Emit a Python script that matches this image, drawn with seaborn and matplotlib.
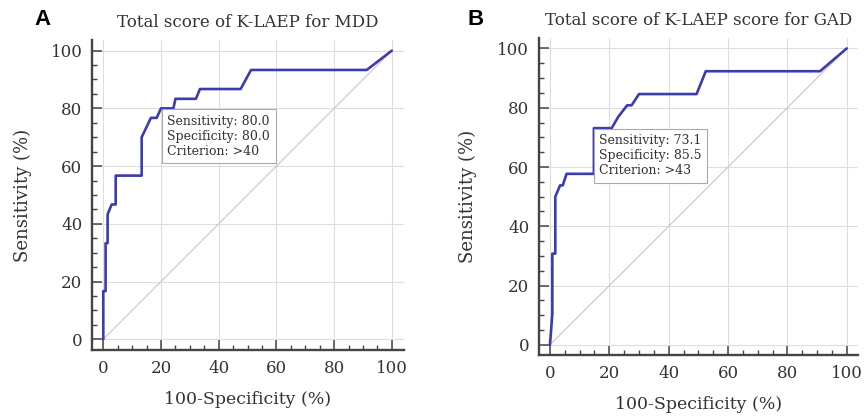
import matplotlib
matplotlib.use("Agg")
import matplotlib.pyplot as plt
from matplotlib.ticker import MultipleLocator
import seaborn as sns
import pandas as pd

# ---- data ----
fpr_mdd = [0, 0, 0.8, 0.8, 1.5, 1.5, 2.9, 4.3, 4.3, 13.3, 13.3, 16.5, 18.5, 20.0,
           24.3, 25.0, 32.1, 33.5, 47.6, 51.2, 91.3, 100]
tpr_mdd = [0, 16.7, 16.7, 33.3, 33.3, 43.3, 46.7, 46.7, 56.7, 56.7, 70.0, 76.7, 76.7, 80.0,
           80.0, 83.3, 83.3, 86.7, 86.7, 93.3, 93.3, 100]

fpr_gad = [0, 0.8, 0.8, 1.8, 1.8, 3.4, 4.3, 5.6, 14.8, 14.8, 20.8, 23.0, 26.0, 27.5,
           30.0, 49.4, 52.5, 91.0, 100]
tpr_gad = [0, 10.4, 30.8, 30.8, 50.0, 53.8, 53.8, 57.7, 57.7, 73.1, 73.1, 76.9, 80.8, 80.8,
           84.6, 84.6, 92.3, 92.3, 100]

titles = ["Total score of K-LAEP for MDD", "Total score of K-LAEP score for GAD"]
letters = ["A", "B"]
cut_points = [(20.0, 80.0), (14.5, 73.1)]
box_texts = ["Sensitivity: 80.0\nSpecificity: 80.0\nCriterion: >40",
             "Sensitivity: 73.1\nSpecificity: 85.5\nCriterion: >43"]
ticks = [0, 20, 40, 60, 80, 100]
diag = [0, 100]

sns.set_theme(style="white")
plt.rcParams["font.family"] = ["DejaVu Serif"]

fig = plt.figure(figsize=(8.65, 4.16), dpi=100)
axes_pos = [[0.1064, 0.1587, 0.3606, 0.7453],
            [0.6231, 0.1466, 0.3688, 0.7620]]
lims = [((-3.9, 104.2), (-3.7, 103.7)), ((-3.7, 103.8), (-3.4, 103.5))]
letter_pos = [(0.040, 0.952), (0.540, 0.952)]
xlabelpads = [10, 10]
ylabelpads = [13, 15]

curves = [(fpr_mdd, tpr_mdd), (fpr_gad, tpr_gad)]
txtc = "#333333"
for i in range(2):
    ax = fig.add_axes(axes_pos[i])
    fpr, tpr = curves[i]
    df = pd.DataFrame({"fpr": fpr, "tpr": tpr})
    sns.lineplot(x=diag, y=diag, ax=ax, color="#d2b8b8", linewidth=0.7)
    sns.lineplot(data=df, x="fpr", y="tpr", ax=ax, sort=False, estimator=None,
                 color="#3c3cae", linewidth=1.9)
    ax.set_xlim(*lims[i][0])
    ax.set_ylim(*lims[i][1])
    ax.set_xticks(ticks)
    ax.set_yticks(ticks)
    ax.xaxis.set_minor_locator(MultipleLocator(5))
    ax.yaxis.set_minor_locator(MultipleLocator(5))
    ax.tick_params(which="major", direction="in", length=7, width=1.1,
                   colors="#444444", labelcolor=txtc, labelsize=12, pad=7,
                   bottom=True, left=True)
    ax.tick_params(which="minor", direction="in", length=3.5, width=1.0,
                   colors="#444444", bottom=True, left=True)
    ax.grid(True, which="major", color="#dedede", linewidth=0.8)
    for s in ["top", "right"]:
        ax.spines[s].set_visible(False)
    for s in ["left", "bottom"]:
        ax.spines[s].set_color("#444444")
        ax.spines[s].set_linewidth(1.7)
    ax.set_xlabel("100-Specificity (%)", fontsize=12.5, color=txtc, labelpad=xlabelpads[i])
    ax.set_ylabel("Sensitivity (%)", fontsize=13, color=txtc, labelpad=ylabelpads[i])
    ax.text(0.5, 1.03, titles[i], transform=ax.transAxes, ha="center", va="bottom",
            fontsize=12, color=txtc)
    fig.text(letter_pos[i][0], letter_pos[i][1], letters[i], fontsize=16,
             fontweight="bold", family=["Liberation Sans"], color="black",
             va="center", ha="left")
    ax.annotate(box_texts[i], xy=cut_points[i], xytext=(4.5, -4.5),
                textcoords="offset points", ha="left", va="top", fontsize=9,
                color=txtc, linespacing=1.2,
                bbox=dict(boxstyle="square,pad=0.45", facecolor="white",
                          edgecolor="#aaaaaa", linewidth=0.8))

fig.savefig("out.png", dpi=100)
